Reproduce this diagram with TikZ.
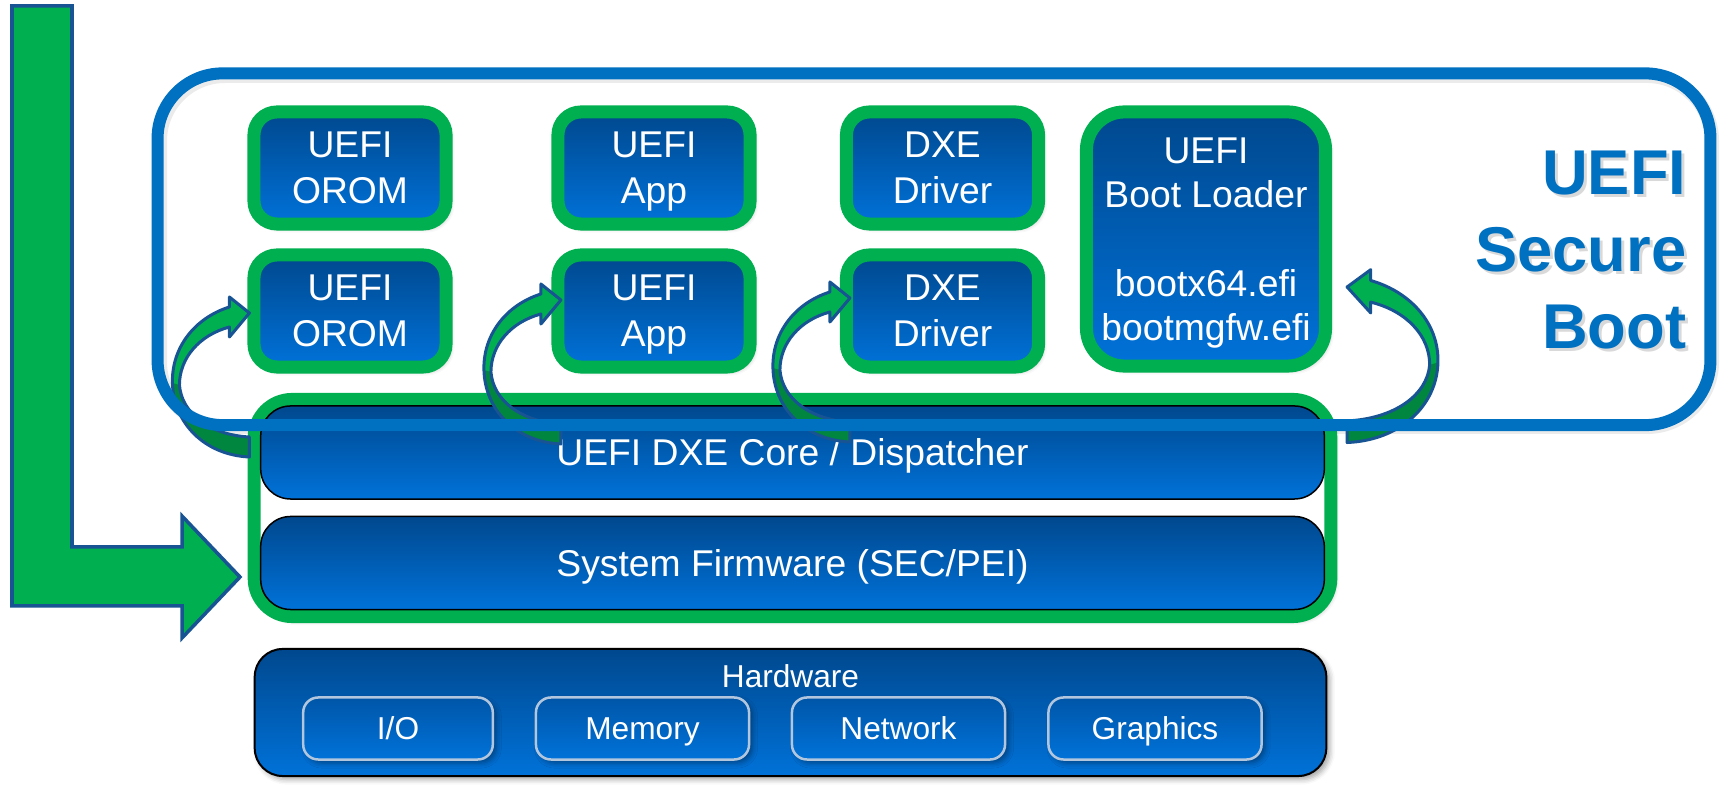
\documentclass[tikz,border=0pt]{standalone}
\usepackage{fontspec}
\setmainfont{Liberation Sans}
\usetikzlibrary{shadows.blur,calc}

\definecolor{bootgreen}{RGB}{0,176,80}
\definecolor{bootdkgreen}{RGB}{0,134,62}
\definecolor{frameblue}{RGB}{0,112,192}
\definecolor{edgeblue}{RGB}{24,84,148}
\definecolor{fillTop}{RGB}{0,72,142}
\definecolor{fillBot}{RGB}{0,114,217}
\definecolor{partTop}{RGB}{0,86,168}
\definecolor{chipedge}{RGB}{178,198,222}

\tikzset{
  bluefill/.style={top color=fillTop, bottom color=fillBot},
  softshadow/.style={blur shadow={shadow xshift=0.035cm, shadow yshift=-0.035cm,
      shadow opacity=35, shadow blur radius=0.05cm}},
  modbox/.style={bluefill, draw=bootgreen, line width=0.13cm, rounded corners=0.23cm,
      minimum width=1.92cm, minimum height=1.12cm, softshadow, text=white,
      align=center, font=\fontsize{10.6}{13.1}\selectfont, text depth=0pt, inner sep=0pt},
  loaderbox/.style={modbox, rounded corners=0.38cm, minimum width=2.39cm,
      minimum height=2.54cm, font=\fontsize{10.6}{12.6}\selectfont},
  stagegroup/.style={draw=bootgreen, fill=white, line width=0.13cm, rounded corners=0.38cm,
      minimum width=10.76cm, minimum height=2.17cm, softshadow},
  stagebar/.style={bluefill, draw=black, line width=0.015cm, rounded corners=0.3cm,
      minimum width=10.63cm, minimum height=0.93cm, text=white, text depth=0pt,
      font=\fontsize{10.6}{12.6}\selectfont, inner sep=0pt},
  hwboard/.style={bluefill, draw=black, line width=0.02cm, rounded corners=0.28cm,
      minimum width=10.71cm, minimum height=1.27cm, softshadow},
  hwlabel/.style={text=white, font=\fontsize{9}{11}\selectfont, inner sep=0pt},
  hwpart/.style={top color=partTop, bottom color=fillBot, draw=chipedge, line width=0.025cm,
      rounded corners=0.15cm, minimum width=2.13cm, minimum height=0.62cm, softshadow,
      text=white, text depth=0pt, font=\fontsize{9}{11}\selectfont, inner sep=0pt},
  sbtitle/.style={anchor=north east, align=right, inner sep=0pt,
      font=\fontsize{18}{21.9}\selectfont\bfseries},
  arrowedge/.style={draw=edgeblue, line width=0.03cm, line join=round},
  % curved block arrow, tip at the origin, pointing right
  bendarrow/.pic={
    \fill[bootgreen] (-20,-6) .. controls (-55,5) and (-78,35) .. (-77,70)
      .. controls (-76,110) and (-45,142) .. (0,144) -- (0,124)
      .. controls (-40,122) and (-68,100) .. (-70,72)
      .. controls (-70,45) and (-50,22) .. (-20,14)
      -- (-20,24) -- (0,0) -- (-20,-16) -- cycle;
    \fill[bootdkgreen] (-77,70) .. controls (-76,110) and (-45,142) .. (0,144)
      -- (0,124) .. controls (-40,122) and (-68,100) .. (-70,72) -- cycle;
    \path[arrowedge] (-20,-6) .. controls (-55,5) and (-78,35) .. (-77,70)
      .. controls (-76,110) and (-45,142) .. (0,144) -- (0,124)
      .. controls (-40,122) and (-68,100) .. (-70,72)
      .. controls (-70,45) and (-50,22) .. (-20,14)
      -- (-20,24) -- (0,0) -- (-20,-16) -- cycle;
  }
}

\begin{document}
\begin{tikzpicture}[x=0.01cm, y=-0.01cm]
\useasboundingbox (0,0) rectangle (1730,786);

% soft shadow under the secure boot frame
\draw[black, opacity=0.08, line width=0.14cm, rounded corners=0.65cm] (160,76) rectangle (1712,427);

% UEFI modules
\node[modbox] (orom1) at (350,168) {UEFI\\OROM};
\node[modbox] (app1)  at (654,168) {UEFI\\App};
\node[modbox] (drv1)  at (942.5,168) {DXE\\Driver};
\node[modbox] (orom2) at (350,311) {UEFI\\OROM};
\node[modbox] (app2)  at (654,311) {UEFI\\App};
\node[modbox] (drv2)  at (942.5,311) {DXE\\Driver};
\node[loaderbox] (loader) at (1206,239) {UEFI\\Boot Loader\\[12.6pt]bootx64.efi\\bootmgfw.efi};

% firmware stages
\node[stagegroup] (group) at (792.5,508) {};
\node[stagebar] (dxe) at (792.5,452.5) {UEFI DXE Core / Dispatcher};
\node[stagebar] (sec) at (792.5,563) {System Firmware (SEC/PEI)};

% hardware
\node[hwboard] (hw) at (790.5,712.5) {};
\node[hwlabel, anchor=base] (hwname) at (790.5,688) {Hardware};
\node[hwpart, minimum width=1.895cm] (io) at (398,728.5) {I/O};
\node[hwpart] (mem) at (642.5,728.5) {Memory};
\node[hwpart] (net) at (898.5,728.5) {Network};
\node[hwpart] (gfx) at (1155,728.5) {Graphics};

% dispatcher launches
\pic at ($(orom2.west)+(2,2)$) {bendarrow};
\pic at ($(app2.west)+(9.5,-11)$) {bendarrow};
\pic at ($(drv2.west)+(10,-13)$) {bendarrow};
\pic[xscale=-1.18, yscale=1.08] at ($(loader.east)+(15,48)$) {bendarrow};

% secure boot frame
\node[draw=frameblue, line width=0.12cm, rounded corners=0.65cm,
      minimum width=15.52cm, minimum height=3.515cm] (secure) at (934,249.25) {};
\node[sbtitle, text=black, opacity=0.15] (sbshade) at (1690,153) {UEFI\\Secure\\Boot};
\node[sbtitle, text=frameblue] (sbname) at (1687,150) {UEFI\\Secure\\Boot};

% power-on flow into the firmware
\draw[fill=bootgreen, draw=edgeblue, line width=0.035cm]
  (12,6) -- (72,6) -- (72,547) -- (182,547) -- (182,516) -- (240,577)
  -- (182,638) -- (182,606) -- (12,606) -- cycle;
\end{tikzpicture}
\end{document}
